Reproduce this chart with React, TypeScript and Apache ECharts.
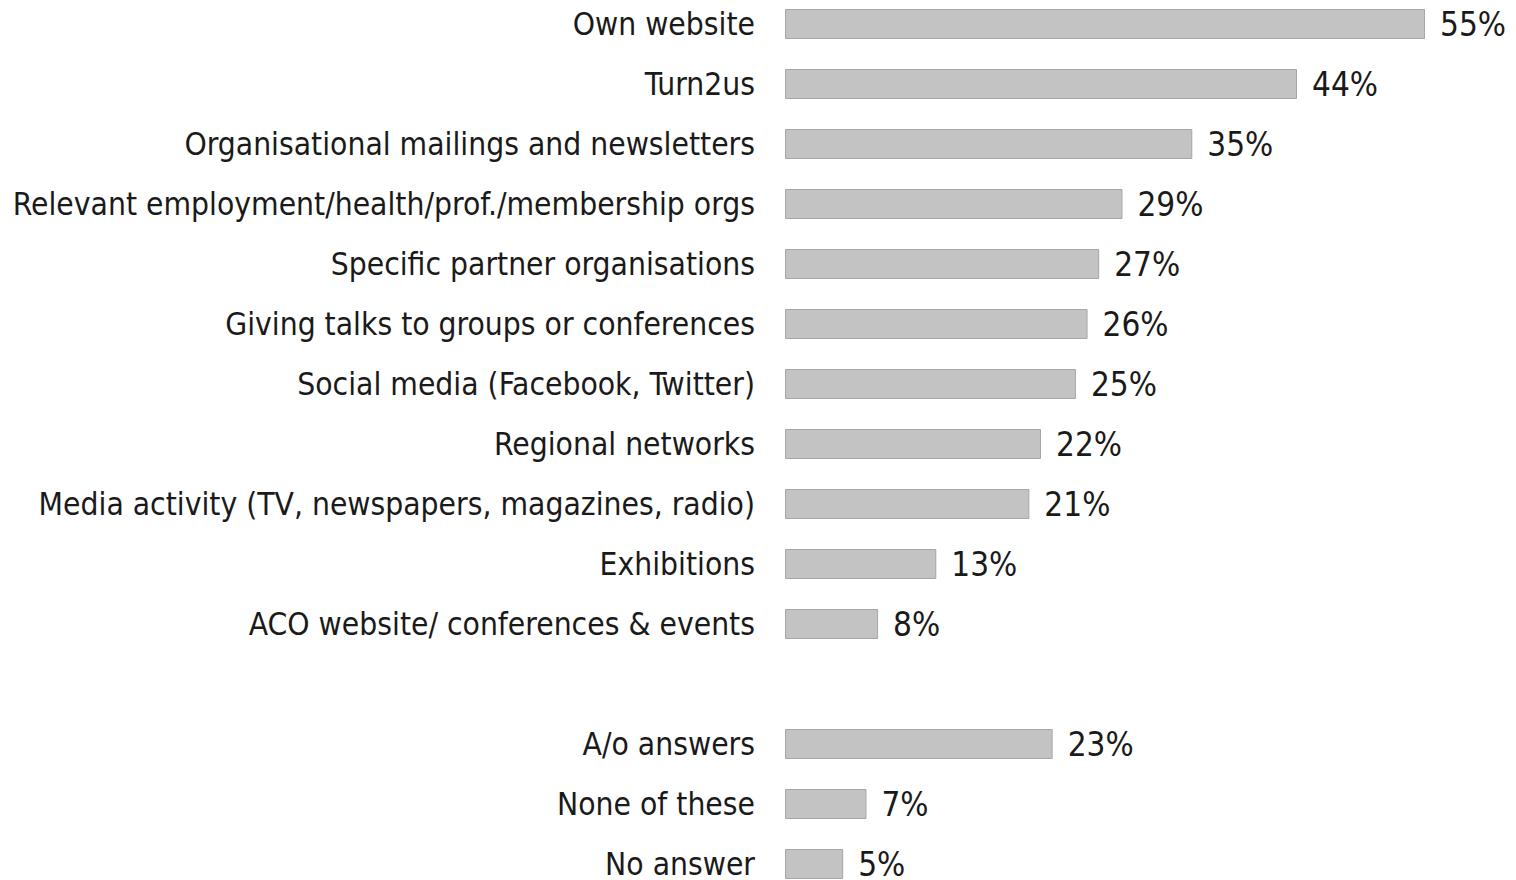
import React, { useEffect, useRef } from "react";
import * as echarts from "echarts";

const categories = [
  "Own website",
  "Turn2us",
  "Organisational mailings and newsletters",
  "Relevant employment/health/prof./membership orgs",
  "Specific partner organisations",
  "Giving talks to groups or conferences",
  "Social media (Facebook, Twitter)",
  "Regional networks",
  "Media activity (TV, newspapers, magazines, radio)",
  "Exhibitions",
  "ACO website/ conferences & events",
  "",
  "A/o answers",
  "None of these",
  "No answer",
];

const values: (number | null)[] = [55, 44, 35, 29, 27, 26, 25, 22, 21, 13, 8, null, 23, 7, 5];

const FONT = "'DejaVu Sans Condensed', 'DejaVu Sans', sans-serif";

export default function App() {
  const ref = useRef<HTMLDivElement>(null);
  useEffect(() => {
    const chart = echarts.init(ref.current!, undefined, { renderer: "svg" });
    chart.setOption({
      animation: false,
      backgroundColor: "#ffffff",
      grid: { left: 785, top: -6, width: 640, height: 900, containLabel: false, outerBoundsMode: "none" },
      xAxis: {
        type: "value",
        min: 0,
        max: 55,
        show: false,
      },
      yAxis: {
        type: "category",
        inverse: true,
        data: categories,
        axisLine: { show: false },
        axisTick: { show: false },
        splitLine: { show: false },
        axisLabel: {
          margin: 30,
          fontFamily: FONT,
          fontSize: 31.5,
          color: "#1a1a1a",
        },
      },
      series: [
        {
          type: "bar",
          data: values,
          barWidth: 30,
          itemStyle: { color: "#c3c3c3", borderColor: "#a6a6a6", borderWidth: 1 },
          label: {
            show: true,
            position: "right",
            distance: 15,
            fontFamily: FONT,
            fontSize: 33,
            color: "#1a1a1a",
            formatter: (p: any) => (p.value == null ? "" : p.value + "%"),
          },
        },
      ],
    });
    return () => chart.dispose();
  }, []);
  return (
    <div
      ref={ref}
      style={{ position: "fixed", left: 0, top: 0, width: 1516, height: 880, background: "#fff" }}
    />
  );
}
